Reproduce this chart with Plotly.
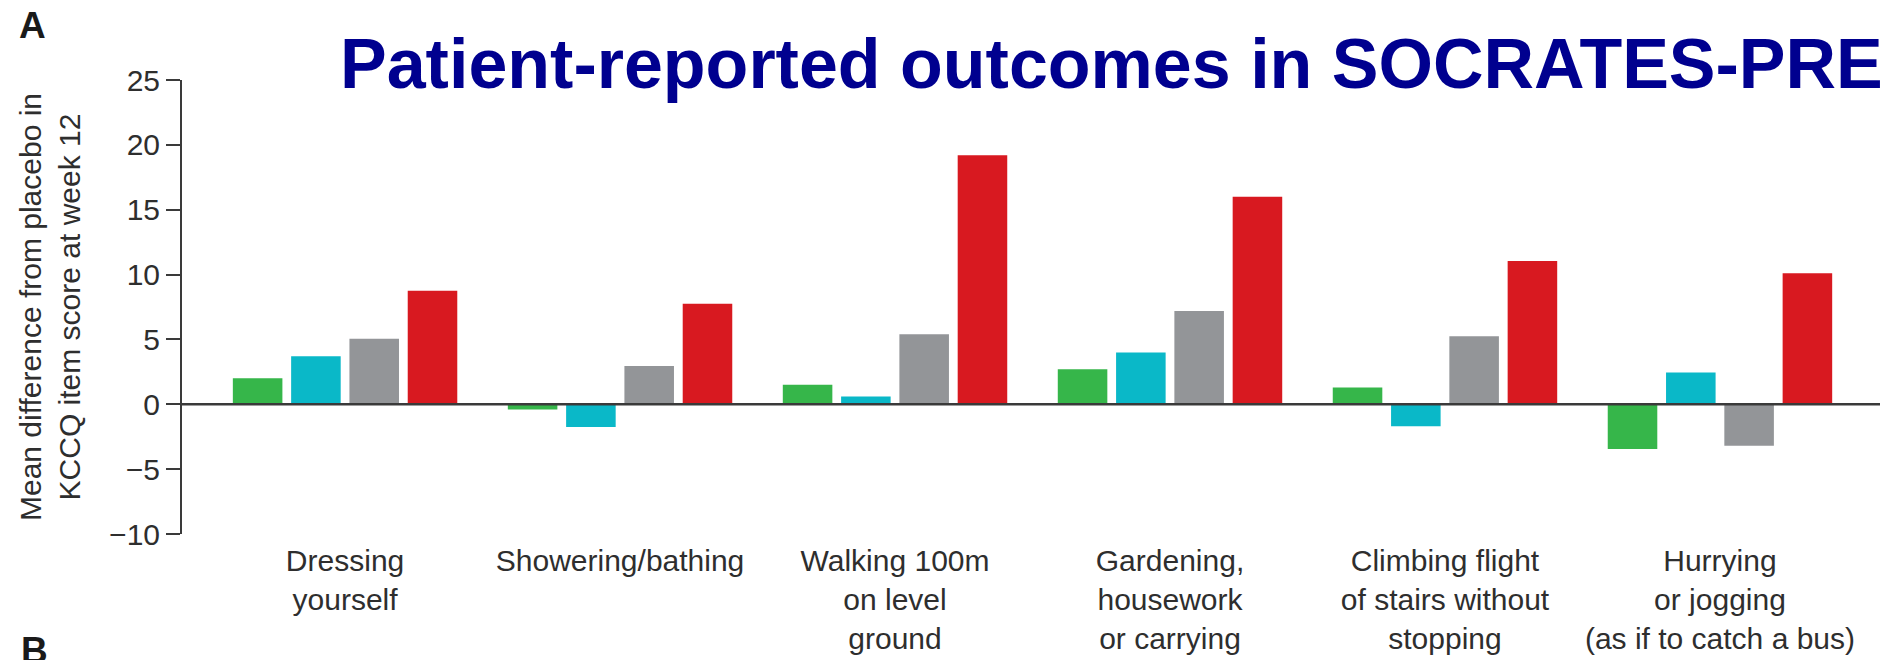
import plotly.graph_objects as go

# KCCQ physical-limitation items (x categories)
items = [
    "Dressing<br>yourself",
    "Showering/bathing",
    "Walking 100m<br>on level<br>ground",
    "Gardening,<br>housework<br>or carrying",
    "Climbing flight<br>of stairs without<br>stopping",
    "Hurrying<br>or jogging<br>(as if to catch a bus)",
]

# Mean difference from placebo, one list per dose arm
arm_green = [2.0, -0.4, 1.5, 2.7, 1.3, -3.45]
arm_cyan = [3.7, -1.75, 0.6, 4.0, -1.7, 2.45]
arm_gray = [5.05, 2.95, 5.4, 7.2, 5.25, -3.2]
arm_red = [8.75, 7.75, 19.2, 16.0, 11.05, 10.1]

y_ticks = [-10, -5, 0, 5, 10, 15, 20, 25]
y_tick_text = ["\u221210", "\u22125", "0", "5", "10", "15", "20", "25"]

series = [
    (arm_green, "#36b64a"),
    (arm_cyan, "#0ab8c8"),
    (arm_gray, "#939598"),
    (arm_red, "#d81920"),
]

W, H = 1880, 660
L, R, T, B = 182, 0, 80, 126
plot_w = W - L - R
plot_h = H - T - B

FONT = "Liberation Sans, Arial, Helvetica, sans-serif"
TEXT = "#2e2e2e"
AXIS = "#3a3a3a"

fig = go.Figure()
for vals, col in series:
    fig.add_trace(go.Bar(x=items, y=vals, marker=dict(color=col, line=dict(width=0)),
                         showlegend=False))

# baseline at zero, drawn over the bars
fig.add_shape(type="line", xref="paper", yref="y", x0=0, x1=1, y0=0, y1=0,
              line=dict(color=AXIS, width=2.5), layer="above")

def px_x(px):
    return (px - L) / plot_w

def px_y(py):
    return (H - B - py) / plot_h

fig.add_annotation(text="<b>Patient-reported outcomes in SOCRATES-PRESERVED</b>",
                   xref="paper", yref="paper", x=px_x(338), y=px_y(64),
                   xanchor="left", yanchor="middle", showarrow=False,
                   font=dict(family=FONT, size=70, color="#00008f"))
fig.add_annotation(text="<b>A</b>", xref="paper", yref="paper",
                   x=px_x(17), y=px_y(26), xanchor="left", yanchor="middle",
                   showarrow=False, font=dict(family=FONT, size=37, color="#1a1a1a"))
fig.add_annotation(text="<b>B</b>", xref="paper", yref="paper",
                   x=px_x(19), y=px_y(650), xanchor="left", yanchor="middle",
                   showarrow=False, font=dict(family=FONT, size=37, color="#1a1a1a"))

fig.update_layout(
    width=W, height=H,
    margin=dict(l=L, r=R, t=T, b=B, autoexpand=False),
    paper_bgcolor="white", plot_bgcolor="white",
    barmode="group", bargap=0.152, bargroupgap=0.15,
    font=dict(family=FONT, color=TEXT),
    xaxis=dict(
        type="category", range=[-0.593, 5.582],
        showline=False, showgrid=False, zeroline=False, ticks="",
        tickfont=dict(size=30, color=TEXT), ticklabelstandoff=6,
        automargin=False, fixedrange=True,
    ),
    yaxis=dict(
        range=[-10, 25], tickvals=y_ticks, ticktext=y_tick_text,
        showline=True, linecolor=AXIS, linewidth=2,
        ticks="outside", ticklen=14, tickwidth=2, tickcolor=AXIS,
        showgrid=False, zeroline=False,
        tickfont=dict(size=30, color=TEXT),
        title=dict(text="Mean difference from placebo in<br>KCCQ item score at week 12",
                   font=dict(size=30, color=TEXT), standoff=20),
        automargin=False, fixedrange=True,
    ),
)

fig.write_html("out.html")
